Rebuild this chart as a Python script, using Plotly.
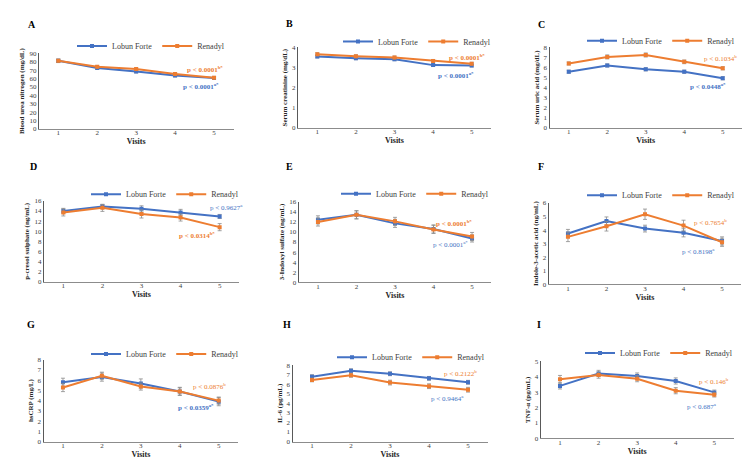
import plotly.graph_objects as go

visits = [1, 2, 3, 4, 5]
series_names = ["Lobun Forte", "Renadyl"]

panel_letters = ["A", "B", "C", "D", "E", "F", "G", "H", "I"]
y_titles = [
    "Blood urea nitrogen (mg/dL)",
    "Serum creatinine (mg/dL)",
    "Serum uric acid (mg/dL)",
    "p-cresol sulphate (ng/mL)",
    "3-Indoxyl sulfate (ng/mL)",
    "Indole-3-acetic acid (ng/mL)",
    "hsCRP (mg/L)",
    "IL-6 (pg/mL)",
    "TNF-α (pg/mL)",
]
y_max = [90, 4, 8, 16, 16, 6, 8, 8, 5]
y_step = [10, 1, 1, 2, 2, 1, 1, 1, 1]

lobun = [
    [81.0, 72.5, 68.2, 63.5, 60.5],
    [3.55, 3.46, 3.41, 3.12, 3.10],
    [5.57, 6.19, 5.80, 5.57, 4.92],
    [14.0, 14.84, 14.4, 13.7, 12.9],
    [12.4, 13.4, 11.7, 10.6, 8.7],
    [3.75, 4.67, 4.11, 3.80, 3.20],
    [5.79, 6.30, 5.67, 4.90, 3.90],
    [6.80, 7.42, 7.10, 6.62, 6.21],
    [3.40, 4.21, 4.04, 3.72, 2.98],
]
renadyl = [
    [81.0, 74.0, 71.3, 65.5, 61.0],
    [3.66, 3.56, 3.50, 3.33, 3.19],
    [6.38, 7.03, 7.22, 6.54, 5.90],
    [13.7, 14.6, 13.4, 12.7, 10.8],
    [11.97, 13.4, 12.1, 10.5, 9.1],
    [3.50, 4.28, 5.17, 4.33, 3.10],
    [5.28, 6.43, 5.38, 4.90, 4.00],
    [6.46, 6.94, 6.18, 5.80, 5.43],
    [3.83, 4.10, 3.87, 3.09, 2.83],
]
lobun_err = [
    [2.0, 1.5, 1.5, 1.5, 1.5],
    [0.07, 0.07, 0.07, 0.07, 0.07],
    [0.15, 0.15, 0.15, 0.15, 0.15],
    [0.5, 0.4, 0.6, 0.6, 0.4],
    [0.8, 0.8, 0.8, 0.8, 0.7],
    [0.3, 0.3, 0.25, 0.3, 0.3],
    [0.4, 0.4, 0.45, 0.4, 0.4],
    [0.2, 0.2, 0.2, 0.2, 0.2],
    [0.2, 0.2, 0.2, 0.2, 0.15],
]
renadyl_err = [
    [2.0, 1.5, 1.5, 1.5, 1.5],
    [0.07, 0.07, 0.07, 0.07, 0.07],
    [0.15, 0.2, 0.2, 0.18, 0.15],
    [0.7, 0.7, 0.8, 0.7, 0.7],
    [0.8, 0.8, 0.8, 0.8, 0.8],
    [0.35, 0.35, 0.38, 0.4, 0.3],
    [0.4, 0.35, 0.35, 0.35, 0.35],
    [0.2, 0.2, 0.25, 0.25, 0.25],
    [0.25, 0.2, 0.2, 0.2, 0.15],
]
p_lobun = ["p < 0.0001<sup>a*</sup>", "p < 0.0001<sup>a*</sup>", "p < 0.0448<sup>a*</sup>",
           "p < 0.9627<sup>a</sup>", "p < 0.0001<sup>a*</sup>", "p < 0.8198<sup>a</sup>",
           "p < 0.0359<sup>a*</sup>", "p < 0.9464<sup>a</sup>", "p < 0.687<sup>a</sup>"]
p_renadyl = ["p < 0.0001<sup>b*</sup>", "p < 0.0001<sup>b*</sup>", "p < 0.1034<sup>b</sup>",
             "p < 0.0314<sup>b*</sup>", "p < 0.0001<sup>b*</sup>", "p < 0.7654<sup>b</sup>",
             "p < 0.0876<sup>b</sup>", "p < 0.2122<sup>b</sup>", "p < 0.146<sup>b</sup>"]
p_lobun_bold = [True, True, True, False, False, False, True, False, False]
p_renadyl_bold = [True, True, False, True, True, False, False, False, False]

# ---- layout geometry (pixels in the target picture) ----
W, H = 750, 470
OFF = 8  # page body margin offsets the figure inside the window
BLUE = "#4472C4"
ORANGE = "#ED7D31"
FONT = "Liberation Serif"

# axis boxes: x0, x1, ytop, ybottom
boxes = [
    (38.8, 233.5, 50, 127), (298, 491, 44, 126), (549.5, 742, 43.7, 126),
    (43.8, 239.2, 200, 282.7), (298.7, 491.3, 201, 283), (548.7, 741.3, 202.3, 285),
    (43.5, 238.2, 361.7, 445), (292.5, 487.5, 367.3, 445), (540.7, 733.6, 363.3, 441.7),
]
letter_pos = [(32, 21), (289, 20), (541, 21), (33, 165), (289, 165), (541, 165),
              (31, 326), (287, 326), (539, 326)]
# legend left edges (pixels) and vertical centres
legend_pos = [(72, 42.7), (338, 38), (582, 37.3), (86, 193.3), (336, 193),
              (582, 194.3), (86, 356), (332, 359.3), (580, 355)]
p_lobun_pos = [(201, 84), (456, 72.3), (708, 84), (226, 207.3), (450, 244.3),
               (698.5, 251.7), (195.5, 410), (447, 401.7), (702, 409)]
p_renadyl_pos = [(205, 66), (467, 54), (720, 55.3), (197, 235.7), (454, 223.3),
                 (710, 222), (210, 389), (460, 375.7), (713.5, 384.3)]


def fx(x):
    return (x - OFF) / W


def fy(y):
    return 1 - (y - OFF) / H


fig = go.Figure()
layout = dict(
    width=W, height=H, margin=dict(l=0, r=0, t=0, b=0),
    paper_bgcolor="white", plot_bgcolor="white",
    font=dict(family=FONT, color="#404040"),
    annotations=[],
)

for i in range(9):
    n = "" if i == 0 else str(i + 1)
    xa, ya = "x" + n, "y" + n
    leg = "legend" + n
    x0, x1, yt, yb = boxes[i]
    for name, vals, errs, col in ((series_names[0], lobun[i], lobun_err[i], BLUE),
                                  (series_names[1], renadyl[i], renadyl_err[i], ORANGE)):
        fig.add_trace(go.Scatter(
            x=visits, y=vals, name=name, mode="lines+markers",
            xaxis=xa, yaxis=ya, legend=leg,
            line=dict(color=col, width=2),
            marker=dict(symbol="square", size=4, color=col),
            error_y=dict(type="data", array=errs, visible=True,
                         color="#8c8c8c", thickness=0.8, width=2),
        ))
    layout["xaxis" + n] = dict(
        domain=[fx(x0), fx(x1)], anchor=ya, range=[0.5, 5.5],
        tickvals=visits, ticktext=[str(v) for v in visits],
        showgrid=False, zeroline=False, showline=True, linecolor="#8c8c8c", linewidth=1,
        ticks="", ticklabelstandoff=-3,
        tickfont=dict(size=7, family=FONT, color="#404040"),
        title=dict(text="<b>Visits</b>", font=dict(size=8, family=FONT, color="#262626"),
                   standoff=1),
    )
    layout["yaxis" + n] = dict(
        domain=[fy(yb), fy(yt)], anchor=xa, range=[0, y_max[i]], dtick=y_step[i],
        showgrid=False, zeroline=False, showline=True, linecolor="#595959", linewidth=1,
        ticks="", tickfont=dict(size=7, family=FONT, color="#404040"),
        title=dict(text="<b>" + y_titles[i] + "</b>",
                   font=dict(size=7, family=FONT, color="#262626"), standoff=3),
    )
    lx, ly = legend_pos[i]
    layout[leg] = dict(
        x=fx(lx), y=fy(ly), xanchor="left", yanchor="middle",
        orientation="h", bgcolor="rgba(0,0,0,0)", itemwidth=30,
        font=dict(size=8, family=FONT, color="#404040"), tracegroupgap=0,
    )
    px_, py_ = letter_pos[i]
    layout["annotations"].append(dict(
        x=fx(px_), y=fy(py_), xref="paper", yref="paper", showarrow=False,
        text="<b>" + panel_letters[i] + "</b>", xanchor="center", yanchor="middle",
        font=dict(size=10, family=FONT, color="#000000"),
    ))
    for txt, pos, bold, col in ((p_lobun[i], p_lobun_pos[i], p_lobun_bold[i], BLUE),
                                (p_renadyl[i], p_renadyl_pos[i], p_renadyl_bold[i], ORANGE)):
        layout["annotations"].append(dict(
            x=fx(pos[0]), y=fy(pos[1]), xref="paper", yref="paper", showarrow=False,
            text=("<b>" + txt + "</b>") if bold else txt,
            xanchor="center", yanchor="middle",
            font=dict(size=7, family=FONT, color=col),
        ))

fig.update_layout(**layout)
fig.write_html("out.html")
